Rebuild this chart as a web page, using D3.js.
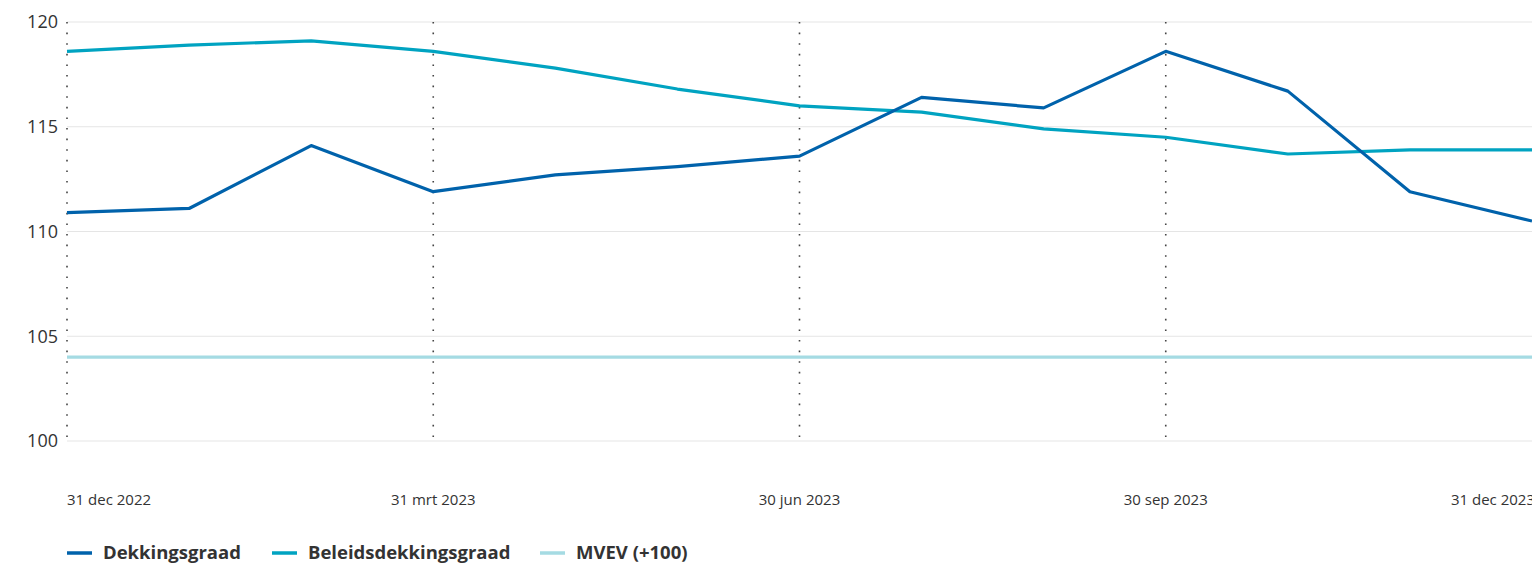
<!DOCTYPE html>
<html>
<head>
<meta charset="utf-8">
<script src="https://cdn.jsdelivr.net/npm/d3@7"></script>
<style>
  body { margin: 0; background: #fff; font-family: "Open Sans", sans-serif; }
  svg { display: block; }
</style>
</head>
<body>
<div id="chart"></div>
<script>
// Month ends, Dec 2022 .. Dec 2023
const dates = ["2022-12-31","2023-01-31","2023-02-28","2023-03-31","2023-04-30","2023-05-31",
               "2023-06-30","2023-07-31","2023-08-31","2023-09-30","2023-10-31","2023-11-30","2023-12-31"];
const dekkingsgraad = [110.9, 111.1, 114.1, 111.9, 112.7, 113.1, 113.6, 116.4, 115.9, 118.6, 116.7, 111.9, 110.5];
const beleidsdekkingsgraad = [118.6, 118.9, 119.1, 118.6, 117.8, 116.8, 116.0, 115.7, 114.9, 114.5, 113.7, 113.9, 113.9];
const mvev = [104.0, 104.0, 104.0, 104.0, 104.0, 104.0, 104.0, 104.0, 104.0, 104.0, 104.0, 104.0, 104.0];
const yTicks = [100, 105, 110, 115, 120];
const xTickIdx = [0, 3, 6, 9, 12];
const xTickLabels = ["31 dec 2022", "31 mrt 2023", "30 jun 2023", "30 sep 2023", "31 dec 2023"];

const series = [
  {name: "Dekkingsgraad", values: dekkingsgraad, color: "#0062ab"},
  {name: "Beleidsdekkingsgraad", values: beleidsdekkingsgraad, color: "#00a3c1"},
  {name: "MVEV (+100)", values: mvev, color: "#a5dbe3"}
];

const W = 1532, H = 565;
const margin = {left: 67, right: 0, top: 22, bottom: 124};

const svg = d3.select("#chart").append("svg")
  .attr("width", W).attr("height", H);

const idx = d3.range(dates.length);
const x = d3.scalePoint().domain(idx).range([margin.left, W - margin.right]);
const y = d3.scaleLinear().domain([100, 120]).range([H - margin.bottom, margin.top]);

// horizontal gridlines
svg.append("g").selectAll("line").data(yTicks).join("line")
  .attr("x1", margin.left).attr("x2", W)
  .attr("y1", d => y(d)).attr("y2", d => y(d))
  .attr("stroke", "#e5e5e5").attr("stroke-width", 1);

// y labels
svg.append("g").selectAll("text").data(yTicks).join("text")
  .attr("x", 58).attr("y", d => y(d)).attr("dy", "0.35em")
  .attr("text-anchor", "end")
  .attr("font-size", 18).attr("fill", "#333")
  .text(d => d);

// dotted quarter lines
svg.append("g").selectAll("line").data(xTickIdx.slice(0, 4)).join("line")
  .attr("x1", d => x(d)).attr("x2", d => x(d))
  .attr("y1", y(120)).attr("y2", y(100) - 2)
  .attr("stroke", "#444").attr("stroke-width", 1.6)
  .attr("stroke-dasharray", "1.6,9");

// x labels (last one runs off the right edge, as in the original)
svg.append("g").selectAll("text").data(xTickIdx).join("text")
  .attr("x", (d, i) => i === xTickIdx.length - 1 ? W + 3 : x(d))
  .attr("y", 505)
  .attr("text-anchor", (d, i) => i === 0 ? "start" : (i === xTickIdx.length - 1 ? "end" : "middle"))
  .attr("font-size", 15).attr("fill", "#333")
  .text((d, i) => xTickLabels[i]);

// lines
const line = d3.line().x((d, i) => x(i)).y(d => y(d));
svg.append("g").selectAll("path").data(series.slice().reverse()).join("path")
  .attr("d", d => line(d.values))
  .attr("fill", "none")
  .attr("stroke", d => d.color)
  .attr("stroke-width", 3.2)
  .attr("stroke-linejoin", "round");

// legend
const legendX = [67, 272, 540];
const lg = svg.append("g").selectAll("g").data(series).join("g")
  .attr("transform", (d, i) => `translate(${legendX[i]},553)`);
lg.append("line").attr("x1", 0).attr("x2", 25).attr("y1", 0).attr("y2", 0)
  .attr("stroke", d => d.color).attr("stroke-width", 3.5);
lg.append("text").attr("x", 36).attr("dy", "0.35em")
  .attr("font-size", 18.5).attr("font-weight", 700).attr("fill", "#333")
  .text(d => d.name);
</script>
</body>
</html>
